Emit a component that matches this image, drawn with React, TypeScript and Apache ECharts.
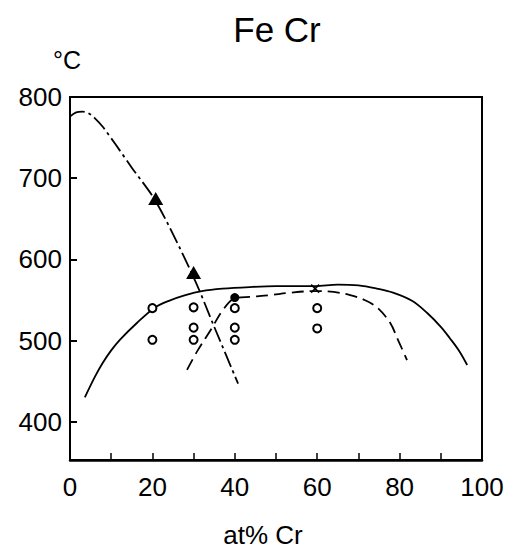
import React, { useEffect, useRef } from "react";
import * as echarts from "echarts";

// Tick values
const xTickValues = [10, 20, 30, 40, 50, 60, 70, 80, 90];
const xLabelValues = [0, 20, 40, 60, 80, 100];
const yTickValues = [400, 500, 600, 700];
const yLabelValues = [400, 500, 600, 700, 800];

// Dash-dot descending curve (at% Cr, °C)
const dashDotCurve: [number, number][] = [
  [0, 776], [1.5, 781], [3, 782], [4.5, 780], [6, 774], [8, 763], [11, 742],
  [15, 713], [21, 670], [30, 578], [35, 517], [40.8, 447],
];

// Solid dome curve
const solidCurve: [number, number][] = [
  [3.6, 430], [6, 455], [8, 473], [10, 488], [12.1, 501], [16.3, 522],
  [20.4, 540], [24, 549], [28, 556], [32, 561], [37, 564], [43.7, 566],
  [50, 567], [59.5, 567], [65, 569], [70, 568], [74.5, 564], [78.4, 559],
  [83, 549], [86.7, 534], [90, 517], [92.2, 503], [94.5, 487], [96.4, 470],
];

// Dashed curve
const dashedCurve: [number, number][] = [
  [28.4, 464], [31, 488], [34.5, 516], [37, 537], [40, 552], [44, 554],
  [48.5, 556], [53.4, 559], [59.5, 561], [64, 560], [68, 556], [71.5, 550],
  [74.5, 541], [77.7, 522], [79.6, 501], [81.8, 476],
];

// Measured points
const openCircles: [number, number][] = [
  [20, 540], [20, 501],
  [30, 541], [30, 516], [30, 501],
  [40, 540], [40, 516], [40, 501],
  [60, 540], [60, 515],
];
const filledTriangles: [number, number][] = [[20.8, 675], [30, 584]];
const filledDots: [number, number][] = [[40, 553]];
const crosses: [number, number][] = [[59.5, 564]];

const FONT = "Liberation Sans, Arial, sans-serif";

export default function App() {
  const ref = useRef<HTMLDivElement>(null);
  useEffect(() => {
    if (!ref.current) return;
    const chart = echarts.init(ref.current, null, { renderer: "svg" });
    const black = "#000";
    chart.setOption({
      animation: false,
      backgroundColor: "#fff",
      grid: {
        left: 70,
        right: 36,
        top: 97,
        bottom: 90,
        show: true,
        borderColor: black,
        borderWidth: 2,
      },
      xAxis: {
        type: "value",
        min: 0,
        max: 100,
        axisLine: { show: true, lineStyle: { color: black, width: 2.5 } },
        axisTick: {
          show: true,
          inside: true,
          length: 7,
          customValues: xTickValues,
          lineStyle: { color: black, width: 1.5 },
        },
        axisLabel: {
          customValues: xLabelValues,
          color: black,
          fontSize: 26,
          fontFamily: FONT,
          margin: 14,
        },
        splitLine: { show: false },
      },
      yAxis: {
        type: "value",
        min: 353,
        max: 800,
        axisLine: { show: true, lineStyle: { color: black, width: 2 } },
        axisTick: {
          show: true,
          inside: true,
          length: 7,
          customValues: yTickValues,
          lineStyle: { color: black, width: 2 },
        },
        axisLabel: {
          customValues: yLabelValues,
          color: black,
          fontSize: 26,
          fontFamily: FONT,
          margin: 8,
        },
        splitLine: { show: false },
      },
      graphic: [
        {
          type: "text",
          x: 277,
          y: 29,
          style: {
            text: "Fe Cr",
            font: `35px ${FONT}`,
            fill: black,
            textAlign: "center",
            textVerticalAlign: "middle",
          },
        },
        {
          type: "text",
          x: 67,
          y: 60,
          style: {
            text: "°C",
            font: `25px ${FONT}`,
            fill: black,
            textAlign: "center",
            textVerticalAlign: "middle",
          },
        },
        {
          type: "text",
          x: 263,
          y: 535,
          style: {
            text: "at% Cr",
            font: `26px ${FONT}`,
            fill: black,
            textAlign: "center",
            textVerticalAlign: "middle",
          },
        },
      ],
      series: [
        {
          type: "line",
          data: dashDotCurve,
          smooth: 0.3,
          symbol: "none",
          lineStyle: { color: black, width: 1.8, type: [16, 4, 3, 4] },
        },
        {
          type: "line",
          data: solidCurve,
          smooth: 0.35,
          symbol: "none",
          lineStyle: { color: black, width: 1.8, type: "solid" },
        },
        {
          type: "line",
          data: dashedCurve,
          smooth: 0.35,
          symbol: "none",
          lineStyle: { color: black, width: 1.8, type: [12, 6] },
        },
        {
          type: "scatter",
          data: openCircles,
          symbol: "circle",
          symbolSize: 8,
          itemStyle: { color: "#fff", borderColor: black, borderWidth: 2, opacity: 1 },
          z: 5,
        },
        {
          type: "scatter",
          data: filledTriangles,
          symbol: "triangle",
          symbolSize: [15, 13],
          itemStyle: { color: black, opacity: 1 },
          z: 5,
        },
        {
          type: "scatter",
          data: filledDots,
          symbol: "circle",
          symbolSize: 9,
          itemStyle: { color: black, opacity: 1 },
          z: 5,
        },
        {
          type: "scatter",
          data: crosses,
          symbol: "path://M0,0L10,10M10,0L0,10",
          symbolSize: 8,
          itemStyle: { color: "none", borderColor: black, borderWidth: 1.5, opacity: 1 },
          z: 5,
        },
      ],
    });
    return () => chart.dispose();
  }, []);
  return (
    <div
      ref={ref}
      style={{ position: "fixed", left: 0, top: 0, width: 518, height: 550 }}
    />
  );
}
